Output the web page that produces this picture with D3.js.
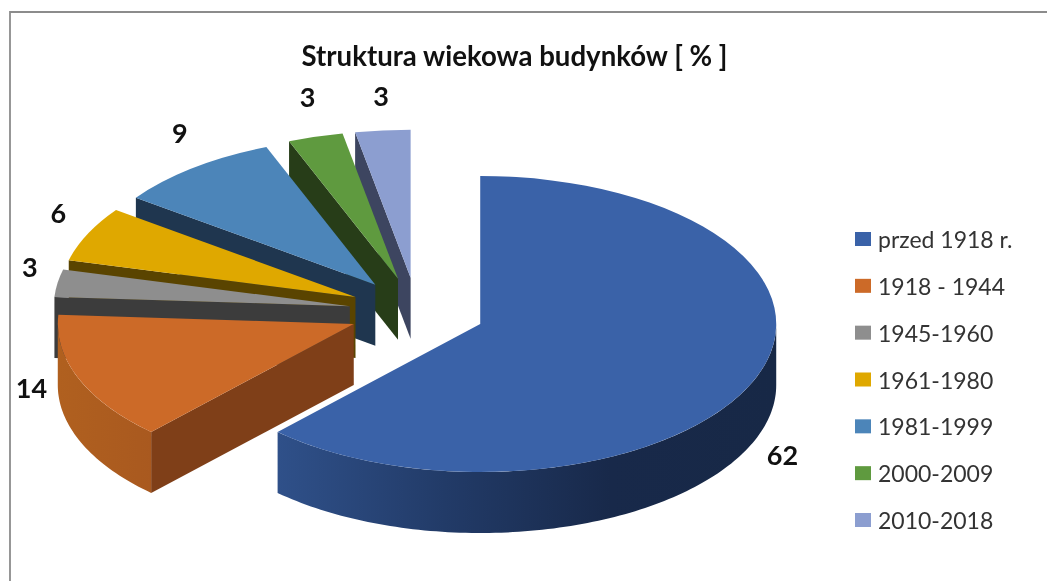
<!DOCTYPE html>
<html>
<head>
<meta charset="utf-8">
<style>
  html, body { margin: 0; padding: 0; background: #fff; }
  svg { display: block; filter: blur(0.45px); }
</style>
<script src="https://cdn.jsdelivr.net/npm/d3@7"></script>
</head>
<body>
<svg id="chart" width="1047" height="581"></svg>
<script>
const categories = ["przed 1918 r.", "1918 - 1944", "1945-1960", "1961-1980", "1981-1999", "2000-2009", "2010-2018"];
const shares = [62, 14, 3, 6, 9, 3, 3];
const chartTitle = "Struktura wiekowa budynków [ % ]";

const topColors = ["#3A62A8", "#CC6A28", "#8E8E8E", "#DFA800", "#4C85B9", "#5F9A3F", "#8C9ED0"];
const cutColors = ["#1A2B4D", "#7F3F18", "#3C3C3C", "#5A4400", "#1F364F", "#273D18", "#3D4560"];

// geometry of the tilted pie
const cx = 417, cy = 311.5;
const rx = 296, tilt = 0.5, depth = 61, explode = 68;
const labelRadius = 324;
const labelNudge = [[1, 71], [-21, 4], [0, -14], [-4, -16], [3, -24], [0, -27], [1, -21]];

const svg = d3.select("#chart");

// frame of the chart area
svg.append("path")
  .attr("d", "M10,581V12H1047")
  .attr("fill", "none")
  .attr("stroke", "#8c8c8c")
  .attr("stroke-width", 1.8);

svg.append("text")
  .attr("x", 514.5).attr("y", 66)
  .attr("text-anchor", "middle")
  .attr("font-family", "Lato")
  .attr("font-weight", 700)
  .attr("font-size", 27.6)
  .attr("fill", "#111")
  .text(chartTitle);

const pie = d3.pie().sort(null).value(d => d)(shares);
const arc = d3.arc().innerRadius(0).outerRadius(rx);
const line = d3.line();

const defs = svg.append("defs");
function wallGradient(id, x1, x2, colors) {
  const g = defs.append("linearGradient")
    .attr("id", id)
    .attr("gradientUnits", "userSpaceOnUse")
    .attr("x1", x1).attr("x2", x2).attr("y1", 0).attr("y2", 0);
  colors.forEach((c, i) => g.append("stop")
    .attr("offset", i / (colors.length - 1))
    .attr("stop-color", c));
}
wallGradient("wall0", 278, 776, ["#2F5089", "#223B68", "#18294A", "#172846"]);
wallGradient("wall1", 59, 152, ["#B0601F", "#A9591F"]);

// rim point of a slice, angle clockwise from the top
const rim = (apex, a, down = 0) => [
  apex[0] + rx * Math.sin(a),
  apex[1] - rx * tilt * Math.cos(a) + down
];

pie.forEach(d => {
  const mid = (d.startAngle + d.endAngle) / 2;
  d.apex = [cx + explode * Math.sin(mid), cy - explode * tilt * Math.cos(mid)];
});

// back slices first, the big front slice last
d3.range(pie.length - 1, -1, -1).forEach(i => {
  const d = pie[i];
  const g = svg.append("g");

  // side wall along the first cut
  const p = rim(d.apex, d.startAngle);
  g.append("path")
    .attr("d", line([d.apex, p, [p[0], p[1] + depth], [d.apex[0], d.apex[1] + depth]]) + "Z")
    .attr("fill", cutColors[i]);

  // outer wall, only the part that faces the viewer
  const a0 = Math.max(d.startAngle, Math.PI / 2);
  const a1 = Math.min(d.endAngle, Math.PI * 1.5);
  if (a1 > a0) {
    const angles = d3.range(a0, a1, 0.02).concat(a1);
    const upper = angles.map(a => rim(d.apex, a));
    const lower = angles.map(a => rim(d.apex, a, depth)).reverse();
    g.append("path")
      .attr("d", line(upper.concat(lower)) + "Z")
      .attr("fill", `url(#wall${i})`);
  }

  g.append("path")
    .attr("d", arc(d))
    .attr("transform", `translate(${d.apex}) scale(1,${tilt})`)
    .attr("fill", topColors[i]);
});

// value labels
svg.append("g").selectAll("text")
  .data(pie)
  .join("text")
  .attr("x", (d, i) => d.apex[0] + labelRadius * Math.sin((d.startAngle + d.endAngle) / 2) + labelNudge[i][0])
  .attr("y", (d, i) => d.apex[1] - labelRadius * tilt * Math.cos((d.startAngle + d.endAngle) / 2) + labelNudge[i][1])
  .attr("text-anchor", "middle")
  .attr("dominant-baseline", "central")
  .attr("font-family", "Lato")
  .attr("font-weight", 700)
  .attr("font-size", 27)
  .attr("fill", "#111")
  .text(d => d.data);

// legend
const legendY = d3.scalePoint().domain(categories).range([239, 520]);
const legend = svg.append("g").selectAll("g")
  .data(categories)
  .join("g")
  .attr("transform", d => `translate(855,${legendY(d)})`);
legend.append("rect")
  .attr("y", -7).attr("width", 16).attr("height", 14)
  .attr("fill", (d, i) => topColors[i]);
legend.append("text")
  .attr("x", 23)
  .attr("dominant-baseline", "central")
  .attr("font-family", "Lato")
  .attr("font-size", 23)
  .attr("fill", "#333")
  .text(d => d);
</script>
</body>
</html>
